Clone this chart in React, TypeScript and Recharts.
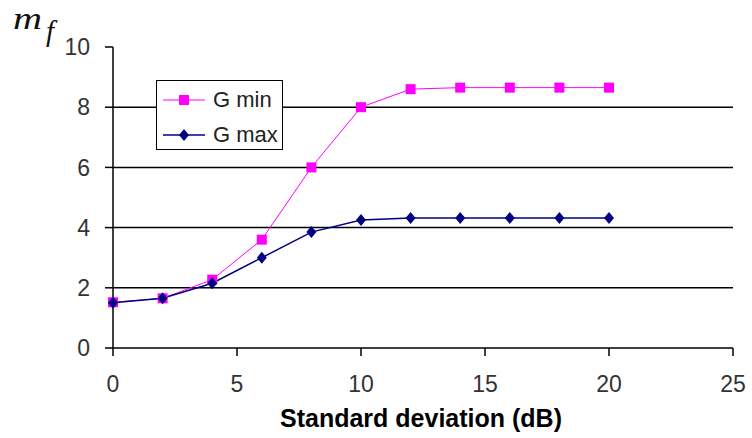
import { LineChart, Line, XAxis, YAxis, ReferenceLine, Legend } from 'recharts';

const X_VALUES = [0, 2, 4, 6, 8, 10, 12, 14, 16, 18, 20];
const G_MIN = [1.52, 1.65, 2.27, 3.6, 6.0, 8.0, 8.6, 8.65, 8.65, 8.65, 8.65];
const G_MAX = [1.5, 1.65, 2.15, 3.0, 3.85, 4.25, 4.32, 4.32, 4.32, 4.32, 4.32];
const X_TICKS = [0, 5, 10, 15, 20, 25];
const Y_TICKS = [0, 2, 4, 6, 8, 10];
const GRID_Y = [2, 4, 6, 8];

const COLORS = {
  gmin: '#ff00ff', // magenta squares
  gmax: '#000080', // navy diamonds
};

const FONT = '"Liberation Sans", Arial, sans-serif';

const data = X_VALUES.map((x, i) => ({ x, gmin: G_MIN[i], gmax: G_MAX[i] }));

const SquareDot = (props: any) => {
  const { cx, cy, index } = props;
  return <rect key={`s${index}`} x={cx - 5} y={cy - 5} width={10} height={10} fill={COLORS.gmin} />;
};

const DiamondDot = (props: any) => {
  const { cx, cy, index } = props;
  return (
    <polygon
      key={`d${index}`}
      points={`${cx},${cy - 6} ${cx + 5},${cy} ${cx},${cy + 6} ${cx - 5},${cy}`}
      fill={COLORS.gmax}
    />
  );
};

const LegendBox = () => {
  const rows = [
    { name: 'G min', color: COLORS.gmin, shape: 'square' },
    { name: 'G max', color: COLORS.gmax, shape: 'diamond' },
  ];
  return (
    <div
      style={{
        width: 125,
        height: 68,
        border: '1px solid #000',
        background: '#fff',
        fontFamily: FONT,
        fontSize: 22,
        color: '#222',
        boxSizing: 'content-box',
      }}
    >
      {rows.map((r, i) => (
        <div key={r.name} style={{ display: 'flex', alignItems: 'center', height: 35, marginTop: i === 0 ? 1 : 0 }}>
          <svg width={56} height={14} style={{ marginLeft: 6 }}>
            <line x1={0} y1={7} x2={42} y2={7} stroke={r.color} strokeWidth={r.shape === 'square' ? 1 : 1.5} />
            {r.shape === 'square' ? (
              <rect x={16} y={2} width={10} height={10} fill={r.color} />
            ) : (
              <polygon points="21,1 26,7 21,13 16,7" fill={r.color} />
            )}
          </svg>
          <span style={{ marginLeft: -6, lineHeight: '22px' }}>{r.name}</span>
        </div>
      ))}
    </div>
  );
};

// italic "m" with subscript "f", top-left of the value axis
const YLabel = () => (
  <text fontFamily='"Liberation Serif", "Times New Roman", serif' fontStyle="italic" fill="#111">
    <tspan x={13} y={29} fontSize={32} textLength={29} lengthAdjust="spacingAndGlyphs">m</tspan>
    <tspan x={46} y={41} fontSize={29}>f</tspan>
  </text>
);

export default function App() {
  return (
    <div style={{ position: 'absolute', left: 0, top: 0, width: 752, height: 438, background: '#fff' }}>
      <LineChart width={752} height={438} data={data} margin={{ top: 47, right: 19, bottom: 0, left: 0 }}>
        {GRID_Y.map((v) => (
          <ReferenceLine key={v} y={v} stroke="#000" strokeWidth={1.5} />
        ))}
        <XAxis
          dataKey="x"
          type="number"
          domain={[0, 25]}
          ticks={X_TICKS}
          height={90}
          tickSize={8}
          tickMargin={20}
          axisLine={{ stroke: '#000', strokeWidth: 1.5 }}
          tickLine={{ stroke: '#000', strokeWidth: 1.5 }}
          tick={{ fill: '#333', fontSize: 23, fontFamily: FONT }}
          label={{
            value: 'Standard deviation (dB)',
            position: 'insideBottom',
            offset: 11,
            dx: -2,
            style: { fill: '#000', fontSize: 25, fontWeight: 'bold', fontFamily: FONT },
          }}
        />
        <YAxis
          type="number"
          domain={[0, 10]}
          ticks={Y_TICKS}
          width={113}
          tickSize={8}
          tickMargin={15}
          axisLine={{ stroke: '#000', strokeWidth: 1.5 }}
          tickLine={{ stroke: '#000', strokeWidth: 1.5 }}
          tick={{ fill: '#333', fontSize: 23, fontFamily: FONT }}
          label={{ content: () => <YLabel /> }}
        />
        <Legend
          layout="vertical"
          align="center"
          verticalAlign="middle"
          content={() => <LegendBox />}
          wrapperStyle={{ position: 'absolute', left: 156, top: 80, width: 'auto' }}
        />
        <Line
          name="G min"
          dataKey="gmin"
          type="linear"
          stroke={COLORS.gmin}
          strokeWidth={1}
          dot={SquareDot}
          isAnimationActive={false}
        />
        <Line
          name="G max"
          dataKey="gmax"
          type="linear"
          stroke={COLORS.gmax}
          strokeWidth={1.5}
          dot={DiamondDot}
          isAnimationActive={false}
        />
      </LineChart>
    </div>
  );
}
